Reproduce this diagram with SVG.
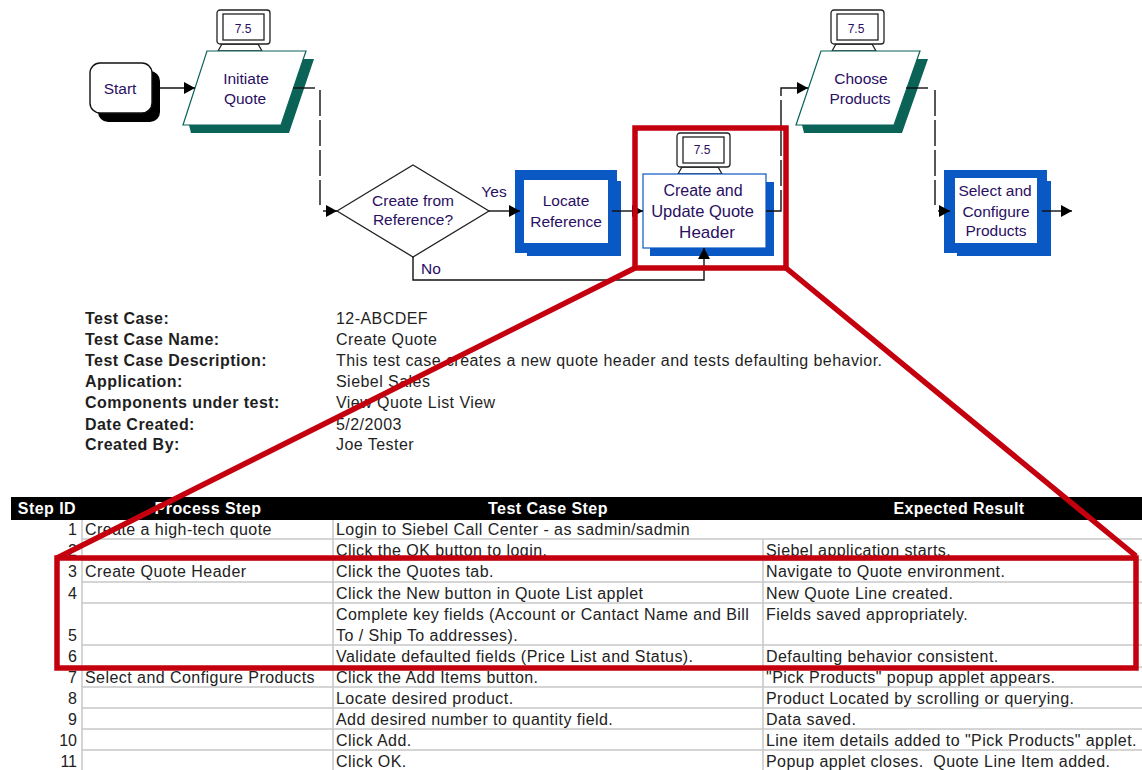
<svg xmlns="http://www.w3.org/2000/svg" width="1142" height="770" viewBox="0 0 1142 770">
<style>
text{font-family:"Liberation Sans",Arial,sans-serif}
.n{font-size:15.5px;fill:#2a0f63;text-anchor:middle}
.m{font-size:12px;fill:#2a0f63;text-anchor:middle}
.l{font-size:16px;letter-spacing:.45px;fill:#1f1f1f}
.t{font-size:16px;letter-spacing:.45px;fill:#222}
.b{font-weight:bold}
.h{font-size:16px;letter-spacing:.45px;font-weight:bold;fill:#fff;text-anchor:middle}
.r{text-anchor:end;letter-spacing:0}
.c{fill:none;stroke:#111;stroke-width:1.4}
.d{stroke-dasharray:26 4}
.grid{stroke:#c8c8c8;stroke-width:1.5;fill:none}
.red{fill:none;stroke:#c4000e;stroke-width:5.5;stroke-linejoin:miter}
.mon{fill:#fff;stroke:#222;stroke-width:1.3}
.teal{fill:#0b6358}
.blue{fill:#0a58c4}
</style>
<defs>
<marker id="a" markerWidth="12" markerHeight="12" refX="11" refY="6" orient="auto" markerUnits="userSpaceOnUse"><path d="M0 0L11 6L0 12Z" fill="#000"/></marker>
<g id="monitor">
<path class="mon" d="M5 34L1 41H45L41 34Z"/>
<rect class="mon" x="0" y="0" width="53" height="34" rx="3"/>
<rect class="mon" x="6" y="4" width="41" height="26"/>
</g>
</defs>
<rect width="1142" height="770" fill="#fff"/>

<g id="start">
<rect x="98" y="71" width="62" height="51" rx="10" fill="#000"/>
<rect x="90" y="63" width="62" height="50" rx="10" fill="#fff" stroke="#111" stroke-width="1.4"/>
<text class="n" x="120" y="94">Start</text>
</g>
<g id="initiate-quote">
<use href="#monitor" x="217" y="10"/>
<path class="teal" d="M303 59H314L289 133H191L189 125H281Z"/>
<path d="M207 51H306L281 125H183Z" fill="#fff" stroke="#0b6358" stroke-width="1.2"/>
<text class="n" x="246" y="84">Initiate</text>
<text class="n" x="245" y="104">Quote</text>
</g>
<g id="create-from-reference">
<path d="M337 211L413 165L489 211L413 257Z" fill="#fff" stroke="#222" stroke-width="1.3"/>
<text class="n" x="413" y="206">Create from</text>
<text class="n" x="413" y="225">Reference?</text>
</g>
<text id="label-yes" class="n" x="494" y="197">Yes</text>
<text id="label-no" class="n" x="431" y="274">No</text>
<g id="locate-reference">
<path class="blue" d="M515 170H617V181H621V256H527V253H515Z"/>
<rect x="524" y="180" width="84" height="63" fill="#fff"/>
<text class="n" x="566" y="206">Locate</text>
<text class="n" x="566" y="227">Reference</text>
</g>
<g id="create-update-quote-header">
<use href="#monitor" x="677" y="133"/>
<path class="blue" d="M650 248V256H774V182H766V248Z"/>
<rect x="643" y="174" width="123" height="74" fill="#fff" stroke="#0a58c4" stroke-width="1.2"/>
<text class="n" x="703" y="196" style="font-size:16px">Create and</text>
<text class="n" x="702.500" y="217" style="font-size:16.5px">Update Quote</text>
<text class="n" x="707" y="238" style="font-size:17px">Header</text>
</g>
<g id="choose-products">
<use href="#monitor" x="831" y="10"/>
<path class="teal" d="M917 59H928L902 133H804L802 125H894Z"/>
<path d="M821 51H920L894 125H796Z" fill="#fff" stroke="#0b6358" stroke-width="1.2"/>
<text class="n" x="861" y="84">Choose</text>
<text class="n" x="860" y="104">Products</text>
</g>
<g id="select-configure-products">
<path class="blue" d="M944 170H1047V181H1051V256H957V253H944Z"/>
<rect x="955" y="178" width="82" height="65" fill="#fff"/>
<text class="n" x="995" y="196">Select and</text>
<text class="n" x="996" y="217">Configure</text>
<text class="n" x="996" y="236">Products</text>
</g>
<g id="monitor-labels">
<text class="m" x="243" y="33">7.5</text>
<text class="m" x="856" y="33">7.5</text>
<text class="m" x="702" y="154">7.5</text>
</g>

<g id="connectors">
<path class="c" marker-end="url(#a)" d="M160 88H195"/>
<path class="c" d="M293 88H315"/>
<path class="c d" d="M320 90V205"/>
<path class="c" marker-end="url(#a)" d="M323 211H337"/>
<path class="c" marker-end="url(#a)" d="M489 211H520"/>
<path class="c" marker-end="url(#a)" d="M413 257V280H704V248"/>
<path class="c" marker-end="url(#a)" d="M612 211H643"/>
<path class="c" d="M766 211H781V190"/>
<path class="c d" d="M781 186V94"/>
<path class="c" marker-end="url(#a)" d="M781 94V88H808"/>
<path class="c" d="M906 88H928"/>
<path class="c d" d="M935 90V205"/>
<path class="c" marker-end="url(#a)" d="M938 211H950"/>
<path class="c" marker-end="url(#a)" d="M1042 211H1072"/>
</g>

<g id="test-case-info">
<text class="l b" x="85" y="324">Test Case:</text><text class="l" x="336" y="324">12-ABCDEF</text>
<text class="l b" x="85" y="345">Test Case Name:</text><text class="l" x="336" y="345">Create Quote</text>
<text class="l b" x="85" y="366">Test Case Description:</text><text class="l" x="336" y="366">This test case creates a new quote header and tests defaulting behavior.</text>
<text class="l b" x="85" y="387">Application:</text><text class="l" x="336" y="387">Siebel Sales</text>
<text class="l b" x="85" y="408">Components under test:</text><text class="l" x="336" y="408">View Quote List View</text>
<text class="l b" x="85" y="430">Date Created:</text><text class="l" x="336" y="430">5/2/2003</text>
<text class="l b" x="85" y="450">Created By:</text><text class="l" x="336" y="450">Joe Tester</text>
</g>

<g id="table">
<rect x="11" y="497" width="1131" height="23" fill="#000"/>
<text class="h" x="47" y="514">Step ID</text>
<text class="h" x="208" y="514">Process Step</text>
<text class="h" x="548" y="514">Test Case Step</text>
<text class="h" x="959" y="514">Expected Result</text>
<path class="grid" d="M82 520V770M333 520V770M763 539V770M82 539H1142M82 560H1142M82 582H1142M82 603H1142M82 645H1142M82 667H1142M82 687H1142M82 708H1142M82 729H1142M82 750H1142"/>
<g>
<text class="t r" x="77" y="535">1</text><text class="t" x="85" y="535">Create a high-tech quote</text><text class="t" x="336" y="535">Login to Siebel Call Center - as sadmin/sadmin</text>
<text class="t r" x="77" y="556">2</text><text class="t" x="336" y="556">Click the OK button to login.</text><text class="t" x="766" y="556">Siebel application starts.</text>
<text class="t r" x="77" y="577">3</text><text class="t" x="85" y="577">Create Quote Header</text><text class="t" x="336" y="577">Click the Quotes tab.</text><text class="t" x="766" y="577">Navigate to Quote environment.</text>
<text class="t r" x="77" y="599">4</text><text class="t" x="336" y="599">Click the New button in Quote List applet</text><text class="t" x="766" y="599">New Quote Line created.</text>
<text class="t" x="336" y="620">Complete key fields (Account or Cantact Name and Bill</text><text class="t" x="766" y="620">Fields saved appropriately.</text>
<text class="t r" x="77" y="641">5</text><text class="t" x="336" y="641">To / Ship To addresses).</text>
<text class="t r" x="77" y="662">6</text><text class="t" x="336" y="662">Validate defaulted fields (Price List and Status).</text><text class="t" x="766" y="662">Defaulting behavior consistent.</text>
<text class="t r" x="77" y="683">7</text><text class="t" x="85" y="683">Select and Configure Products</text><text class="t" x="336" y="683">Click the Add Items button.</text><text class="t" x="766" y="683">"Pick Products" popup applet appears.</text>
<text class="t r" x="77" y="704">8</text><text class="t" x="336" y="704">Locate desired product.</text><text class="t" x="766" y="704">Product Located by scrolling or querying.</text>
<text class="t r" x="77" y="725">9</text><text class="t" x="336" y="725">Add desired number to quantity field.</text><text class="t" x="766" y="725">Data saved.</text>
<text class="t r" x="77" y="746">10</text><text class="t" x="336" y="746">Click Add.</text><text class="t" x="766" y="746">Line item details added to "Pick Products" applet.</text>
<text class="t r" x="77" y="767">11</text><text class="t" x="336" y="767">Click OK.</text><text class="t" x="766" y="767" xml:space="preserve">Popup applet closes.  Quote Line Item added.</text>
</g>
</g>

<g id="callout">
<rect class="red" x="635" y="128" width="151" height="140"/>
<rect class="red" x="57" y="558" width="1079" height="110"/>
<path class="red" d="M635 268L57 558M786 268L1136 556"/>
</g>
</svg>
